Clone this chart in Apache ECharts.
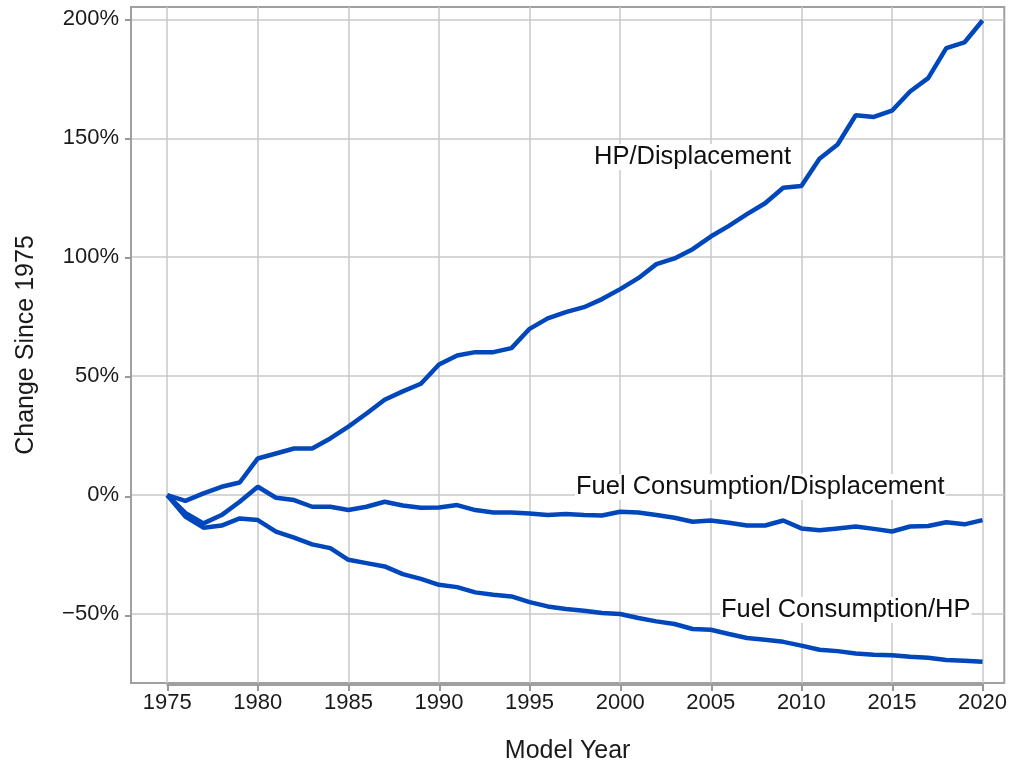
<!DOCTYPE html>
<html>
<head>
<meta charset="utf-8">
<script src="https://cdn.jsdelivr.net/npm/echarts@6/dist/echarts.min.js"></script>
<style>
  html, body { margin: 0; padding: 0; background: #fff; }
  #chart { width: 1010px; height: 769px; }
</style>
</head>
<body>
<div id="chart"></div>
<script>
// model years 1975..2020
var years = [];
for (var y = 1975; y <= 2020; y++) years.push(y);

// change since 1975, in percent
var hpPerDisp = [0, -2.4, 0.7, 3.5, 5.3, 15.4, 17.5, 19.6, 19.6, 23.8, 28.8, 34.3, 40.1, 43.6, 46.8,
  54.9, 58.7, 60.1, 60.1, 61.8, 69.9, 74.3, 76.9, 79.0, 82.4, 86.6, 91.2, 97.1, 99.5, 103.4,
  108.7, 113.2, 118.1, 122.7, 129.2, 129.9, 141.4, 147.4, 159.7, 159.0, 161.6, 169.7, 175.3, 187.9, 190.3, 199.5];
var fcPerDisp = [0, -7.5, -11.9, -8.4, -2.8, 3.5, -1.1, -2.1, -4.9, -4.9, -6.3, -4.9, -2.8, -4.4, -5.3,
  -5.2, -4.2, -6.3, -7.3, -7.3, -7.7, -8.4, -8.0, -8.4, -8.6, -7.0, -7.3, -8.4, -9.5, -11.2,
  -10.7, -11.6, -12.8, -12.8, -10.7, -14.0, -14.8, -14.0, -13.2, -14.2, -15.3, -13.2, -13.0, -11.4, -12.3, -10.5];
var fcPerHp = [0, -9.0, -13.7, -12.8, -9.8, -10.5, -15.4, -17.9, -20.7, -22.3, -27.2, -28.6, -30.0, -33.2, -35.2,
  -37.7, -38.7, -40.9, -41.9, -42.6, -45.0, -46.8, -47.9, -48.6, -49.6, -50.0, -51.7, -53.1, -54.2, -56.3,
  -56.6, -58.4, -60.1, -60.8, -61.7, -63.3, -65.0, -65.6, -66.6, -67.1, -67.3, -68.0, -68.4, -69.3, -69.6, -70.1];

var xTicks = [1975, 1980, 1985, 1990, 1995, 2000, 2005, 2010, 2015, 2020];
var yTicks = [-50, 0, 50, 100, 150, 200];

function pairs(vals) {
  return vals.map(function (v, i) { return [years[i], v]; });
}

var lineColor = '#0047bb';
var font = 'Liberation Sans, Arial, sans-serif';
var textColor = '#1a1a1a';
var frameColor = '#a0a0a0';

var chart = echarts.init(document.getElementById('chart'));

function note(text, left, top) {
  return {
    type: 'text', left: left, top: top, z: 100,
    style: { text: text, font: '25.5px ' + font, fill: '#111', backgroundColor: '#fff', padding: [0, 1] }
  };
}

// axis that only draws tick marks (its grid lines up with the main one)
function tickOnlyAxis(extra) {
  return Object.assign({
    type: 'value',
    axisLine: { show: true, onZero: false, lineStyle: { color: frameColor, width: 2 } },
    axisTick: { show: true, inside: false, length: 6, lineStyle: { color: '#999', width: 2 } },
    axisLabel: { show: true, formatter: function () { return ''; } },
    splitLine: { show: false }
  }, extra);
}
function hiddenAxis(extra) {
  return Object.assign({ type: 'value', show: false, min: 0, max: 1 }, extra);
}

var option = {
  animation: false,
  backgroundColor: '#fff',
  grid: [
    { left: 131, right: 5, top: 7, bottom: 84, show: true, borderColor: frameColor, borderWidth: 2 },
    { left: 167.27, right: 26.76, top: 7, bottom: 84 },
    { left: 131, right: 5, top: 19.41, bottom: 153.19 }
  ],
  xAxis: [
    {
      type: 'value',
      gridIndex: 0,
      min: 1973, max: 2021.2,
      name: 'Model Year',
      nameLocation: 'middle',
      nameGap: 56,
      nameTextStyle: { fontFamily: font, fontSize: 25, color: textColor },
      axisLine: { show: false, onZero: false },
      axisTick: { show: false, customValues: xTicks },
      axisLabel: {
        customValues: xTicks, margin: 9, fontFamily: font, fontSize: 22, color: textColor,
        formatter: function (v) { return String(v); }
      },
      splitLine: { show: true, lineStyle: { color: '#c8c8c8', width: 1.5 } }
    },
    tickOnlyAxis({ gridIndex: 1, min: 1975, max: 2020, interval: 5 }),
    hiddenAxis({ gridIndex: 2 })
  ],
  yAxis: [
    {
      type: 'value',
      gridIndex: 0,
      min: -79, max: 205.2,
      name: 'Change Since 1975',
      nameLocation: 'middle',
      nameGap: 92,
      nameTextStyle: { fontFamily: font, fontSize: 25, color: textColor },
      axisLine: { show: false, onZero: false },
      axisTick: { show: false, customValues: yTicks },
      axisLabel: {
        customValues: yTicks, margin: 12, fontFamily: font, fontSize: 22, color: textColor,
        formatter: function (v) { return (v < 0 ? '\u2212' + (-v) : v) + '%'; }
      },
      splitLine: { show: true, lineStyle: { color: '#c8c8c8', width: 1.5 } }
    },
    hiddenAxis({ gridIndex: 1 }),
    tickOnlyAxis({ gridIndex: 2, min: -50, max: 200, interval: 50 })
  ],
  series: [
    { name: 'HP/Displacement', type: 'line', data: pairs(hpPerDisp), showSymbol: false,
      lineStyle: { color: lineColor, width: 4.5 } },
    { name: 'Fuel Consumption/Displacement', type: 'line', data: pairs(fcPerDisp), showSymbol: false,
      lineStyle: { color: lineColor, width: 4.5 } },
    { name: 'Fuel Consumption/HP', type: 'line', data: pairs(fcPerHp), showSymbol: false,
      lineStyle: { color: lineColor, width: 4.5 } }
  ],
  graphic: [
    note('HP/Displacement', 593, 144),
    note('Fuel Consumption/Displacement', 575, 474),
    note('Fuel Consumption/HP', 720, 597)
  ]
};

chart.setOption(option);
</script>
</body>
</html>
